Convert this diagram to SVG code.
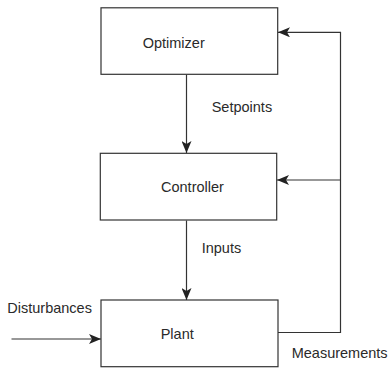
<svg xmlns="http://www.w3.org/2000/svg" width="389" height="369" viewBox="0 0 389 369">
<style>
.box{fill:#fff;stroke:#333;stroke-width:1.2}
.ln{fill:none;stroke:#333;stroke-width:1.2}
text{font-family:"Liberation Sans",Arial,sans-serif;font-size:14.5px;fill:#2a2a2a}
</style>
<defs>
<marker id="ah" viewBox="0 0 12 10" refX="12" refY="5" markerWidth="12" markerHeight="10" markerUnits="userSpaceOnUse" orient="auto">
<path d="M0,0 L12,5 L0,10 L3,5 Z" fill="#222"/>
</marker>
</defs>
<g id="connectors">
<line class="ln" x1="186.5" y1="74.5" x2="186.5" y2="153" marker-end="url(#ah)"/>
<line class="ln" x1="186.5" y1="220.5" x2="186.5" y2="300" marker-end="url(#ah)"/>
<line class="ln" x1="11.5" y1="339" x2="101" y2="339" marker-end="url(#ah)"/>
<polyline class="ln" points="278,332.5 340.5,332.5 340.5,32.3 278,32.3" marker-end="url(#ah)"/>
<line class="ln" x1="340.5" y1="180" x2="277" y2="180" marker-end="url(#ah)"/>
<text x="211.7" y="112">Setpoints</text>
<text x="201.7" y="252.5">Inputs</text>
<text x="7.3" y="312.5">Disturbances</text>
<text x="291.7" y="358">Measurements</text>
</g>
<g id="optimizer">
<rect class="box" x="101" y="7.8" width="176.7" height="66.5"/>
<text x="142.7" y="47.5">Optimizer</text>
</g>
<g id="controller">
<rect class="box" x="100.3" y="153.3" width="176.4" height="66.7"/>
<text x="161" y="191.5">Controller</text>
</g>
<g id="plant">
<rect class="box" x="101" y="300" width="177" height="66.7"/>
<text x="160.7" y="339.2">Plant</text>
</g>
</svg>
